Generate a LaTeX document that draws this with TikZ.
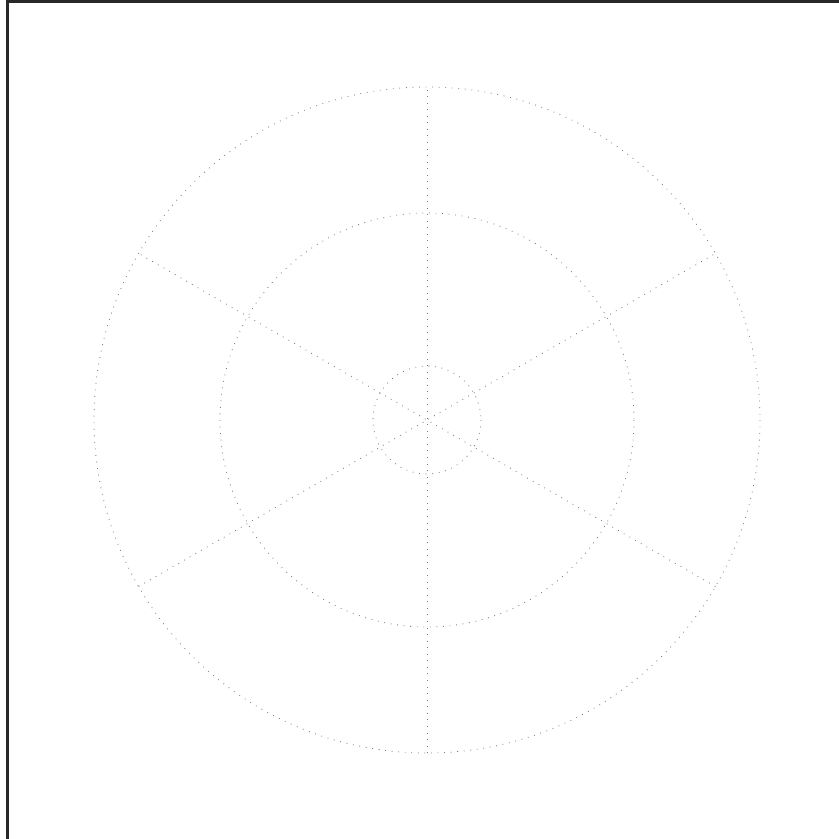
\documentclass[tikz,border=0pt]{standalone}
\definecolor{framegray}{RGB}{40,40,40}
\definecolor{gridgray}{RGB}{120,120,120}
\usepackage{tikz}
\usetikzlibrary{calc}
\tikzset{
  frameline/.style={draw=framegray,line width=0.09cm},
  gridline/.style={draw=gridgray,line width=0.7pt,
                   dash pattern=on 0.7pt off 4.9pt},
}

\begin{document}
\begin{tikzpicture}[x=0.03cm,y=-0.03cm]

  %% Page box and frame
  \useasboundingbox (0,0) rectangle (839,838);
  \draw[frameline] (7,1) rectangle (870,870);

  %% Centre of the target
  \coordinate (ctr) at (427,420);

  %% Rings
  \foreach \r in {54,207,333}{
    \draw[gridline] (ctr) circle[radius=\r];
  }

  %% Spokes
  \foreach \a in {90,30,150}{
    \draw[gridline] ($(ctr)+(\a:333)$) -- ($(ctr)+(\a+180:333)$);
  }

\end{tikzpicture}
\end{document}
